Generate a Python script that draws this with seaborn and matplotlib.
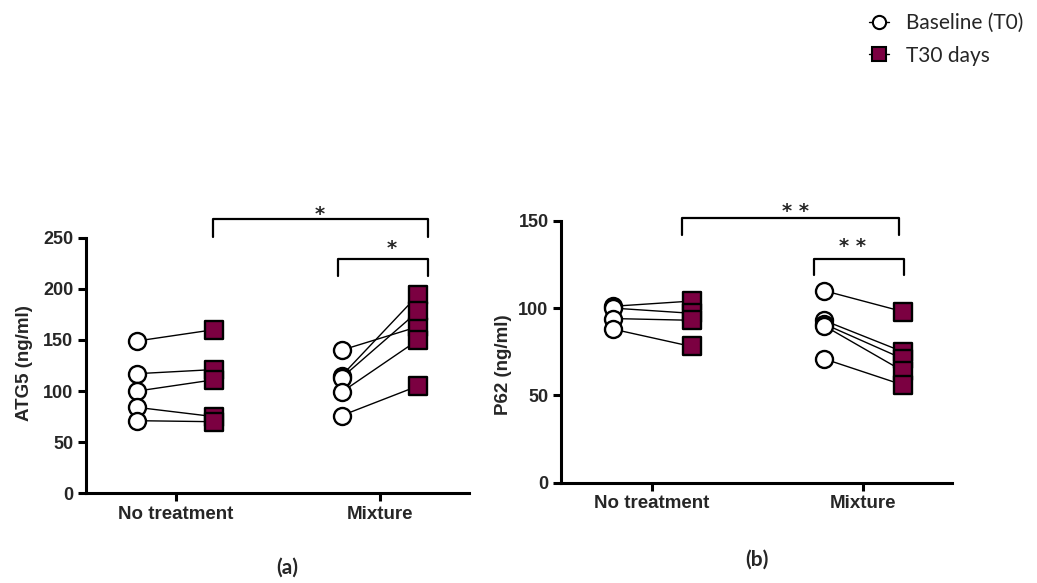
import numpy as np
import pandas as pd
import matplotlib
matplotlib.use("Agg")
import matplotlib.pyplot as plt
import seaborn as sns
from matplotlib.lines import Line2D

# ---------------- data ----------------
groups = ["No treatment", "Mixture"]
times = ["Baseline (T0)", "T30 days"]

atg5_nt_t0 = [149, 117, 100, 84, 71]
atg5_nt_t30 = [160, 121, 111, 75, 70]
atg5_mx_t0 = [140, 115, 113, 99, 76]
atg5_mx_t30 = [163, 194, 178, 150, 105]

p62_nt_t0 = [101, 100, 94, 88]
p62_nt_t30 = [104, 97, 93, 78]
p62_mx_t0 = [110, 93, 91, 90, 71]
p62_mx_t30 = [98, 75, 71, 64, 56]

atg5_ticks = [0, 50, 100, 150, 200, 250]
p62_ticks = [0, 50, 100, 150]

MAROON = "#7B0041"
OFFSET = 0.187


def make_df(nt_t0, nt_t30, mx_t0, mx_t30):
    rows = []
    for gi, (g, a, b) in enumerate([(groups[0], nt_t0, nt_t30), (groups[1], mx_t0, mx_t30)]):
        for si, (v0, v1) in enumerate(zip(a, b)):
            uid = f"{g}_{si}"
            rows.append(dict(group=g, time=times[0], subject=uid, value=v0, xpos=gi - OFFSET))
            rows.append(dict(group=g, time=times[1], subject=uid, value=v1, xpos=gi + OFFSET))
    return pd.DataFrame(rows)


df_atg5 = make_df(atg5_nt_t0, atg5_nt_t30, atg5_mx_t0, atg5_mx_t30)
df_p62 = make_df(p62_nt_t0, p62_nt_t30, p62_mx_t0, p62_mx_t30)

sns.set_theme(style="white")
plt.rcParams["font.family"] = ["Liberation Sans", "DejaVu Sans"]

fig = plt.figure(figsize=(10.37, 5.83), dpi=100)
ax1 = fig.add_axes([0.0829, 0.1539, 0.3693, 0.4384])
ax2 = fig.add_axes([0.541, 0.172, 0.377, 0.4494])


def draw_panel(ax, df, ticks, ylabel, xlim):
    sns.lineplot(data=df, x="xpos", y="value", units="subject", estimator=None,
                 color="black", linewidth=1.0, sort=False, legend=False, ax=ax, zorder=1)
    sns.scatterplot(data=df[df.time == times[0]], x="xpos", y="value", marker="o", s=150,
                    color="white", edgecolor="black", linewidth=1.7, ax=ax, zorder=3, legend=False)
    sns.scatterplot(data=df[df.time == times[1]], x="xpos", y="value", marker="s", s=170,
                    color=MAROON, edgecolor="black", linewidth=1.7, ax=ax, zorder=4, legend=False)
    ax.set_xlim(*xlim)
    ax.set_ylim(ticks[0], ticks[-1])
    ax.set_yticks(ticks)
    ax.set_xticks([0, 1])
    ax.set_xticklabels(groups, fontsize=13.5, fontweight="bold")
    for lab in ax.get_yticklabels():
        lab.set_fontsize(13)
        lab.set_fontweight("bold")
    ax.set_xlabel("")
    ax.set_ylabel(ylabel, fontsize=13.5, fontweight="bold")
    for s in ["top", "right"]:
        ax.spines[s].set_visible(False)
    for s in ["left", "bottom"]:
        ax.spines[s].set_linewidth(2.2)
        ax.spines[s].set_color("black")
    ax.tick_params(axis="both", which="major", length=6, width=2.2, color="black",
                   left=True, bottom=True, pad=3)
    ax.grid(False)


draw_panel(ax1, df_atg5, atg5_ticks, "ATG5 (ng/ml)", (-0.439, 1.436))
draw_panel(ax2, df_p62, p62_ticks, "P62 (ng/ml)", (-0.431, 1.42))
ax1.yaxis.set_label_coords(-0.138, 0.51)
ax2.yaxis.set_label_coords(-0.125, 0.45)


def bracket(ax, x0, x1, ytop, ybot, text, tx, ty):
    ax.plot([x0, x0, x1, x1], [ybot, ytop, ytop, ybot], color="black", lw=1.6,
            clip_on=False, solid_joinstyle="round", zorder=5)
    ax.text(tx, ty, text, ha="center", va="center", fontsize=14, fontweight="bold",
            family=["DejaVu Sans"], clip_on=False)


bracket(ax1, 0.183, 1.235, 268, 251, "*", 0.706, 273)
bracket(ax1, 0.794, 1.235, 229, 213, "*", 1.057, 239)
bracket(ax2, 0.14, 1.169, 151.5, 141.8, "* *", 0.679, 155)
bracket(ax2, 0.769, 1.195, 128, 119, "* *", 0.95, 135)

# panel labels
fig.text(287 / 1037, 1 - 568 / 583, "(a)", ha="center", va="center", fontsize=15,
         fontweight="bold", family=["Lato", "DejaVu Sans"])
fig.text(757 / 1037, 1 - 560 / 583, "(b)", ha="center", va="center", fontsize=15,
         fontweight="bold", family=["Lato", "DejaVu Sans"])

# legend
handles = [
    Line2D([0], [0], color="black", lw=1.0, marker="o", ms=9.5, mfc="white", mec="black", mew=1.5),
    Line2D([0], [0], color="black", lw=1.0, marker="s", ms=9.5, mfc=MAROON, mec="black", mew=1.5),
]
fig.legend(handles, times, loc="upper left", bbox_to_anchor=(869 / 1037, 1 - 13 / 583),
           frameon=False, handlelength=0.95, handletextpad=0.85, labelspacing=0.6,
           borderaxespad=0, borderpad=0,
           prop={"family": ["Lato", "DejaVu Sans"], "size": 15})

fig.savefig("out.png", dpi=100, facecolor="white")
